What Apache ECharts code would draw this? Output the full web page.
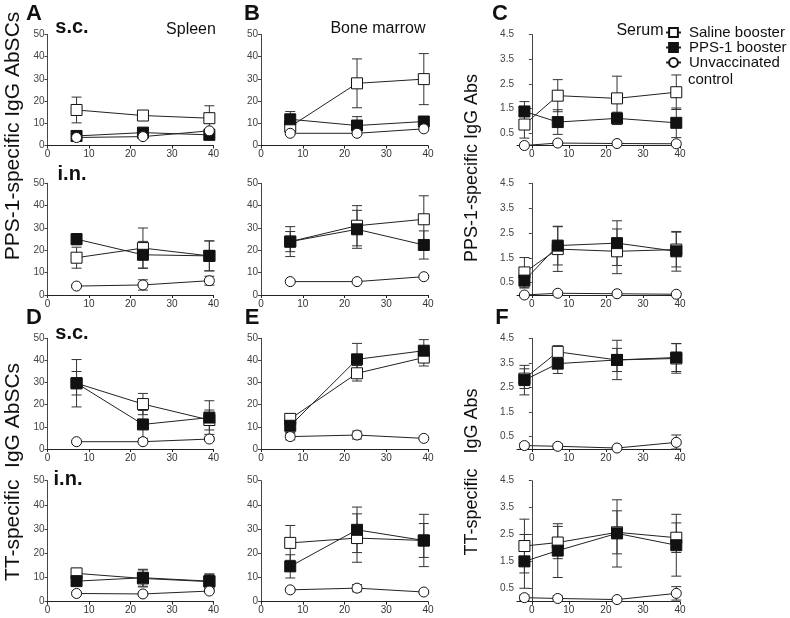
<!DOCTYPE html>
<html>
<head>
<meta charset="utf-8">
<script src="https://cdn.jsdelivr.net/npm/echarts@6/dist/echarts.min.js"></script>
<style>
  html, body { margin: 0; padding: 0; background: #fff; }
  #chart { width: 790px; height: 618px; }
</style>
</head>
<body>
<div id="chart"></div>
<script>
// days after booster
var days = [7, 23, 39];
var serumDays = [-2, 7, 23, 39];
var groupNames = ['Saline booster', 'PPS-1 booster', 'Unvaccinated control'];
var dayTicks = [0, 10, 20, 30, 40];
var absTicks = [0.5, 1.5, 2.5, 3.5, 4.5];

// means and error bars, rows = saline, PPS-1, control
var ppsSpleenScMean = [[16.0, 13.5, 12.3], [4.3, 5.8, 4.8], [3.6, 4.0, 6.6]];
var ppsSpleenScErr = [[5.8, 1.5, 5.6], [1.0, 1.0, 1.0], [0.6, 0.6, 0.8]];
var ppsMarrowScMean = [[8.5, 28.0, 29.9], [11.8, 9.0, 10.8], [5.5, 5.5, 7.5]];
var ppsMarrowScErr = [[1.5, 11.0, 11.5], [3.5, 4.0, 2.0], [0.5, 0.5, 0.5]];
var ppsSerumScMean = [[0.85, 2.02, 1.91, 2.16], [1.38, 0.95, 1.10, 0.92], [0.0, 0.10, 0.08, 0.07]];
var ppsSerumScErr = [[0.55, 0.65, 0.9, 0.7], [0.4, 0.5, 0.25, 0.6], [0, 0, 0, 0]];

var ppsSpleenInMean = [[16.7, 21.0, 17.5], [25.0, 18.0, 17.5], [4.0, 4.5, 6.4]];
var ppsSpleenInErr = [[4.7, 9.0, 6.7], [2.5, 6.0, 6.7], [0.5, 2.3, 2.0]];
var ppsMarrowInMean = [[23.9, 31.0, 33.9], [23.9, 29.4, 22.4], [6.0, 6.0, 8.2]];
var ppsMarrowInErr = [[4.5, 9.0, 10.5], [6.7, 8.5, 6.3], [0.5, 0.5, 0.5]];
var ppsSerumInMean = [[0.91, 1.85, 1.76, 1.83], [0.58, 1.99, 2.09, 1.76], [0.0, 0.07, 0.05, 0.03]];
var ppsSerumInErr = [[0.6, 0.9, 0.9, 0.7], [0.3, 0.78, 0.9, 0.8], [0, 0, 0, 0]];

var ttSpleenScMean = [[29.7, 20.3, 13.1], [29.7, 11.1, 14.2], [3.3, 3.3, 4.5]];
var ttSpleenScErr = [[5.3, 4.8, 4.5], [10.7, 6.3, 7.6], [0.5, 0.5, 0.8]];
var ttMarrowScMean = [[13.6, 34.2, 41.3], [10.5, 40.5, 44.4], [5.6, 6.3, 4.8]];
var ttMarrowScErr = [[2.0, 3.5, 3.8], [3.0, 7.2, 5.0], [1.5, 1.8, 0.5]];
var ttSerumScMean = [[2.86, 3.95, 3.62, 3.68], [2.80, 3.47, 3.62, 3.72], [0.14, 0.11, 0.04, 0.27]];
var ttSerumScErr = [[0.4, 0.25, 0.8, 0.6], [0.6, 0.4, 0.47, 0.57], [0.1, 0.1, 0, 0.3]];

var ttSpleenInMean = [[11.7, 9.6, 8.3], [8.5, 9.9, 8.5], [3.4, 3.2, 4.4]];
var ttSpleenInErr = [[2.0, 3.5, 3.0], [1.5, 3.5, 3.0], [0.5, 0.5, 0.5]];
var ttMarrowInMean = [[24.3, 26.3, 25.3], [14.6, 29.7, 25.3], [4.9, 5.6, 4.0]];
var ttMarrowInErr = [[7.2, 10.0, 10.8], [4.8, 9.4, 7.0], [0.5, 1.5, 0.5]];
var ttSerumInMean = [[2.07, 2.20, 2.58, 2.38], [1.50, 1.90, 2.54, 2.10], [0.15, 0.12, 0.08, 0.31]];
var ttSerumInErr = [[1.0, 0.6, 0.8, 0.55], [1.0, 1.0, 1.25, 1.15], [0.1, 0.1, 0, 0.25]];

var panels = [
    [ppsSpleenScMean, ppsSpleenScErr], [ppsMarrowScMean, ppsMarrowScErr], [ppsSerumScMean, ppsSerumScErr],
    [ppsSpleenInMean, ppsSpleenInErr], [ppsMarrowInMean, ppsMarrowInErr], [ppsSerumInMean, ppsSerumInErr],
    [ttSpleenScMean, ttSpleenScErr], [ttMarrowScMean, ttMarrowScErr], [ttSerumScMean, ttSerumScErr],
    [ttSpleenInMean, ttSpleenInErr], [ttMarrowInMean, ttMarrowInErr], [ttSerumInMean, ttSerumInErr]
];

var font = 'Liberation Sans, Arial, sans-serif';
var colLeft = [47.5, 261, 517];
var colWidth = [166, 167, 163];
var rowTop = [34.5, 183.3, 338.3, 480.7];
var rowHeight = [111, 111.7, 110.7, 121];

var symbols = [
    {symbol: 'rect', color: '#fff'},
    {symbol: 'rect', color: '#111'},
    {symbol: 'circle', color: '#fff'}
];

function errorBars(params, api) {
    var x = api.value(0), m = api.value(1), e = api.value(2);
    if (!e) return;
    var top = api.coord([x, m + e]);
    var bot = api.coord([x, Math.max(m - e, 0)]);
    var w = 5;
    var style = {stroke: '#333', lineWidth: 1};
    return {
        type: 'group',
        children: [
            {type: 'line', shape: {x1: top[0], y1: top[1], x2: bot[0], y2: bot[1]}, style: style},
            {type: 'line', shape: {x1: top[0] - w, y1: top[1], x2: top[0] + w, y2: top[1]}, style: style},
            {type: 'line', shape: {x1: bot[0] - w, y1: bot[1], x2: bot[0] + w, y2: bot[1]}, style: style}
        ]
    };
}

var grids = [], xAxes = [], yAxes = [], series = [];

panels.forEach(function (p, i) {
    var row = Math.floor(i / 3), col = i % 3;
    var serum = col === 2;
    var xs = serum ? serumDays : days;
    grids.push({
        left: colLeft[col], top: rowTop[row], width: colWidth[col], height: rowHeight[row],
        outerBoundsMode: 'none'
    });
    xAxes.push({
        type: 'value', gridIndex: i,
        min: serum ? -4 : 0, max: 40,
        interval: serum ? null : 10,
        axisLine: {lineStyle: {color: '#222', width: 1}},
        axisTick: {length: 3, lineStyle: {color: '#222'}, customValues: serum ? dayTicks : undefined},
        axisLabel: {fontFamily: font, fontSize: 10, color: '#333', margin: 4, customValues: serum ? dayTicks : undefined},
        splitLine: {show: false}
    });
    yAxes.push({
        type: 'value', gridIndex: i,
        min: 0, max: serum ? 4.5 : 50,
        interval: serum ? null : 10,
        axisLine: {show: true, lineStyle: {color: '#444', width: 1}},
        axisTick: {show: true, length: 3, lineStyle: {color: '#444'}, customValues: serum ? absTicks : undefined},
        axisLabel: {fontFamily: font, fontSize: 10, color: '#444', margin: 3, customValues: serum ? absTicks : undefined},
        splitLine: {show: false}
    });
    p[0].forEach(function (means, g) {
        series.push({
            type: 'custom', name: groupNames[g] + ' err', xAxisIndex: i, yAxisIndex: i,
            renderItem: errorBars, z: 1, silent: true,
            data: means.map(function (v, k) { return [xs[k], v, p[1][g][k]]; })
        });
    });
    p[0].forEach(function (means, g) {
        series.push({
            type: 'line', name: groupNames[g], xAxisIndex: i, yAxisIndex: i,
            symbol: symbols[g].symbol, symbolSize: g === 2 ? 10 : 11, z: 3 + g,
            lineStyle: {color: '#222', width: 1},
            itemStyle: {color: symbols[g].color, borderColor: '#111', borderWidth: 1},
            data: means.map(function (v, k) { return [xs[k], v]; }),
            animation: false
        });
    });
});

function label(text, x, y, size, bold, rot, align) {
    return {
        type: 'text', x: x, y: y, rotation: rot || 0,
        style: {
            text: text, fontFamily: font, fontSize: size, fontWeight: bold ? 'bold' : 'normal',
            fill: '#111', align: align || 'center', verticalAlign: 'middle'
        }
    };
}

var myChart = echarts.init(document.getElementById('chart'), null, {renderer: 'canvas'});

option = {
    animation: false,
    backgroundColor: '#fff',
    grid: grids,
    xAxis: xAxes,
    yAxis: yAxes,
    legend: {
        orient: 'vertical', left: 660, top: 20, itemGap: 0,
        itemWidth: 15, itemHeight: 11,
        data: groupNames,
        formatter: function (name) { return name === 'Unvaccinated control' ? 'Unvaccinated' : name; },
        textStyle: {fontFamily: font, fontSize: 15, lineHeight: 15, color: '#111', padding: [0, 0, 0, 3]}
    },
    graphic: [
        label('A', 34, 14, 22, true), label('B', 252, 14, 22, true), label('C', 500, 14, 22, true),
        label('D', 34, 318, 22, true), label('E', 252, 318, 22, true), label('F', 502, 318, 22, true),
        label('s.c.', 72, 27, 20, true), label('i.n.', 72, 174, 20, true),
        label('s.c.', 72, 333, 20, true), label('i.n.', 68, 479, 20, true),
        label('Spleen', 191, 30, 16), label('Bone marrow', 378, 29, 16), label('Serum', 640, 31, 16),
        label('control', 688, 80, 15, false, 0, 'left'),
        label('PPS-1-specific IgG AbSCs', 13, 136, 21, false, Math.PI / 2),
        label('TT-specific  IgG AbSCs', 13, 472, 21, false, Math.PI / 2),
        label('PPS-1-specific IgG Abs', 472, 168, 18, false, Math.PI / 2),
        label('TT-specific   IgG Abs', 472, 472, 18, false, Math.PI / 2)
    ],
    series: series
};

myChart.setOption(option);
</script>
</body>
</html>
